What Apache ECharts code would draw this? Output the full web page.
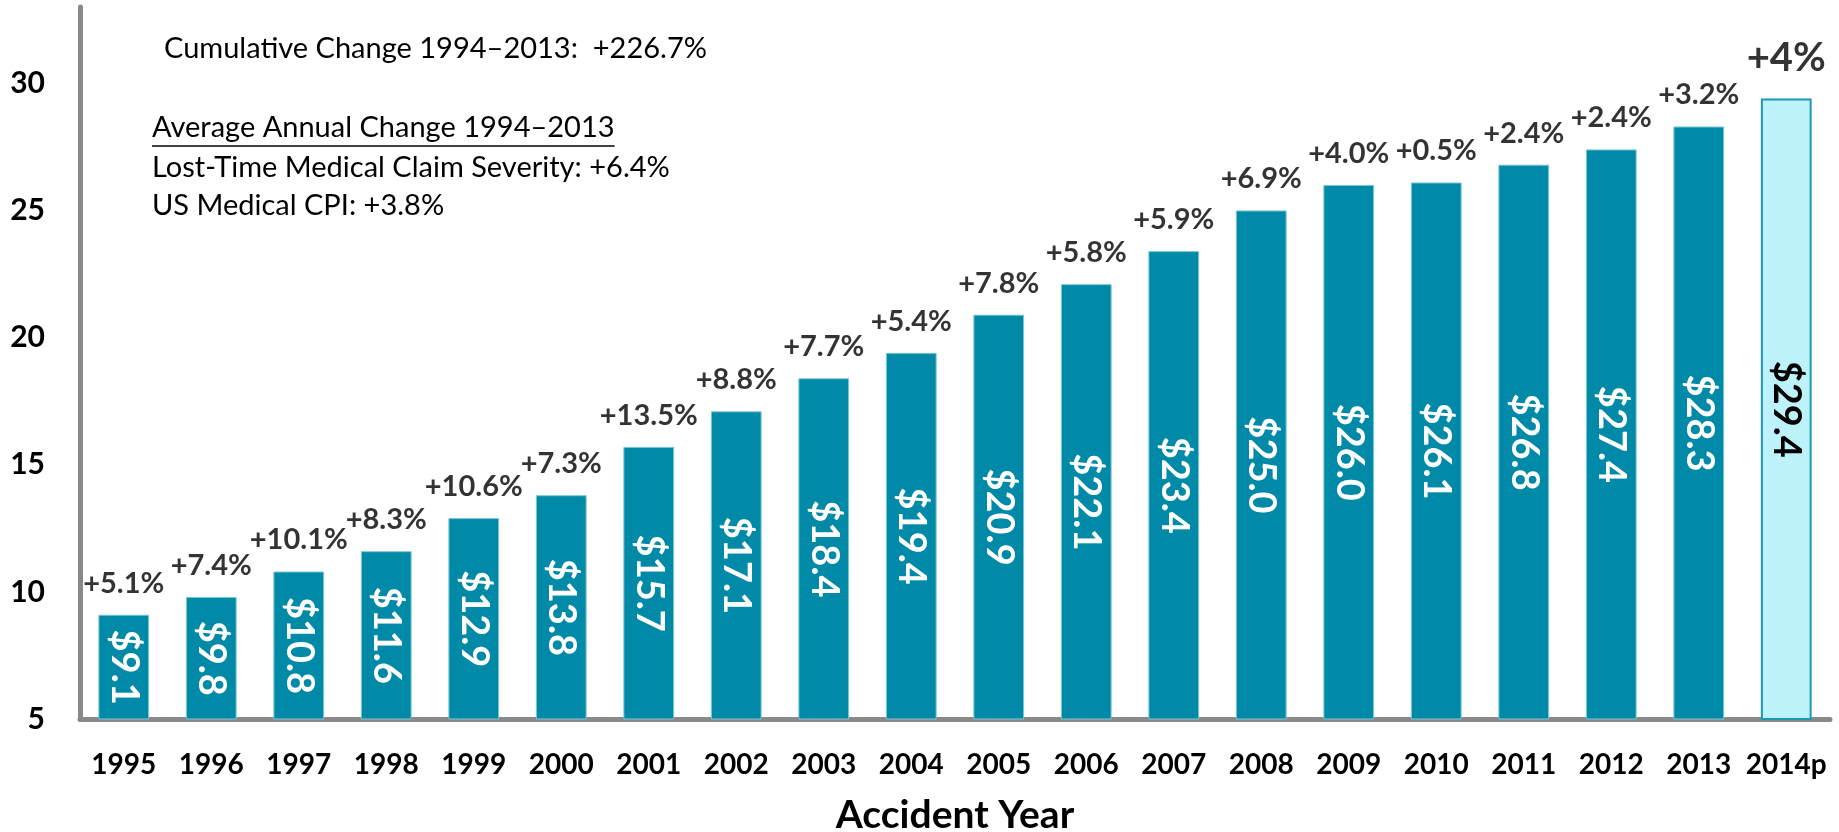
<!DOCTYPE html>
<html>
<head>
<meta charset="utf-8">
<script src="https://cdn.jsdelivr.net/npm/echarts@6/dist/echarts.min.js"></script>
<style>
  html, body { margin: 0; padding: 0; background: #fff; }
  #chart { width: 1839px; height: 832px; }
</style>
</head>
<body>
<div id="chart"></div>
<script>
// Lost-time medical claim severity by accident year ($ thousands)
const years = ['1995', '1996', '1997', '1998', '1999', '2000', '2001', '2002', '2003', '2004',
               '2005', '2006', '2007', '2008', '2009', '2010', '2011', '2012', '2013', '2014p'];
const severity = [9.1, 9.8, 10.8, 11.6, 12.9, 13.8, 15.7, 17.1, 18.4, 19.4,
                  20.9, 22.1, 23.4, 25.0, 26.0, 26.1, 26.8, 27.4, 28.3, 29.4];
const yearChange = ['+5.1%', '+7.4%', '+10.1%', '+8.3%', '+10.6%', '+7.3%', '+13.5%', '+8.8%', '+7.7%', '+5.4%',
                    '+7.8%', '+5.8%', '+5.9%', '+6.9%', '+4.0%', '+0.5%', '+2.4%', '+2.4%', '+3.2%', '+4%'];
const projectedIndex = years.length - 1;

const notes = {
  cumulative: 'Cumulative Change 1994\u20132013:  +226.7%',
  heading: 'Average Annual Change 1994\u20132013',
  severity: 'Lost-Time Medical Claim Severity: +6.4%',
  cpi: 'US Medical CPI: +3.8%'
};

const FONT = 'Lato, "DejaVu Sans", sans-serif';
const NOTE_SIZE = 29;
const TEAL = '#008aa8';

const chart = echarts.init(document.getElementById('chart'), null, { renderer: 'canvas' });

// width of the underlined heading, so the rule spans exactly the text
const measure = document.createElement('canvas').getContext('2d');
measure.font = NOTE_SIZE + 'px Lato';
const headingWidth = measure.measureText(notes.heading).width;

const barData = severity.map((v, i) => {
  if (i === projectedIndex) {
    return {
      value: v,
      itemStyle: { color: '#bdf2fb', borderColor: '#1a9ab5', borderWidth: 2 },
      label: { color: '#000' }
    };
  }
  return { value: v };
});

const changeData = severity.map((v, i) => {
  if (i === projectedIndex) {
    return { value: v, label: { fontSize: 40, distance: 20 } };
  }
  return { value: v };
});

chart.setOption({
  animation: false,
  grid: { left: 80, right: 9, top: 7, bottom: 113, containLabel: false, outerBoundsMode: 'none' },
  xAxis: {
    type: 'category',
    data: years,
    boundaryGap: true,
    axisLine: { lineStyle: { color: '#898989', width: 5 } },
    axisTick: { show: false },
    axisLabel: { interval: 0, fontFamily: FONT, fontSize: 28, fontWeight: 'bold', color: '#000', margin: 32 },
    name: 'Accident Year',
    nameLocation: 'middle',
    nameGap: 77,
    nameTextStyle: { fontFamily: FONT, fontSize: 39, fontWeight: 'bold', color: '#000' }
  },
  yAxis: {
    type: 'value',
    min: 5,
    max: 33,
    interval: 5,
    splitLine: { show: false },
    axisLine: { show: true, lineStyle: { color: '#898989', width: 5 } },
    axisTick: { show: false },
    axisLabel: { fontFamily: FONT, fontSize: 30, fontWeight: 'bold', color: '#000', margin: 35, showMaxLabel: false }
  },
  series: [
    {
      type: 'bar',
      data: barData,
      barWidth: '58%',
      itemStyle: { color: TEAL, borderColor: '#7cc6d6', borderWidth: 1 },
      label: {
        show: true,
        position: 'inside',
        rotate: -90,
        formatter: p => '$' + p.value.toFixed(1),
        fontFamily: FONT,
        fontSize: 38,
        fontWeight: 'bold',
        color: '#fff'
      },
      silent: true
    },
    {
      type: 'scatter',
      data: changeData,
      symbolSize: 0,
      silent: true,
      label: {
        show: true,
        position: 'top',
        distance: 17,
        formatter: p => yearChange[p.dataIndex],
        fontFamily: FONT,
        fontSize: 29,
        fontWeight: 'bold',
        color: '#000'
      }
    }
  ],
  graphic: [
    { type: 'text', left: 164, top: 34, style: { text: notes.cumulative, font: NOTE_SIZE + 'px ' + FONT, fill: '#000' } },
    { type: 'text', left: 152, top: 113, style: { text: notes.heading, font: NOTE_SIZE + 'px ' + FONT, fill: '#000' } },
    { type: 'line', shape: { x1: 152, y1: 146, x2: 152 + headingWidth, y2: 146 }, style: { stroke: '#000', lineWidth: 1.5 } },
    { type: 'text', left: 152, top: 153, style: { text: notes.severity, font: NOTE_SIZE + 'px ' + FONT, fill: '#000' } },
    { type: 'text', left: 152, top: 191, style: { text: notes.cpi, font: NOTE_SIZE + 'px ' + FONT, fill: '#000' } }
  ]
});
</script>
</body>
</html>
